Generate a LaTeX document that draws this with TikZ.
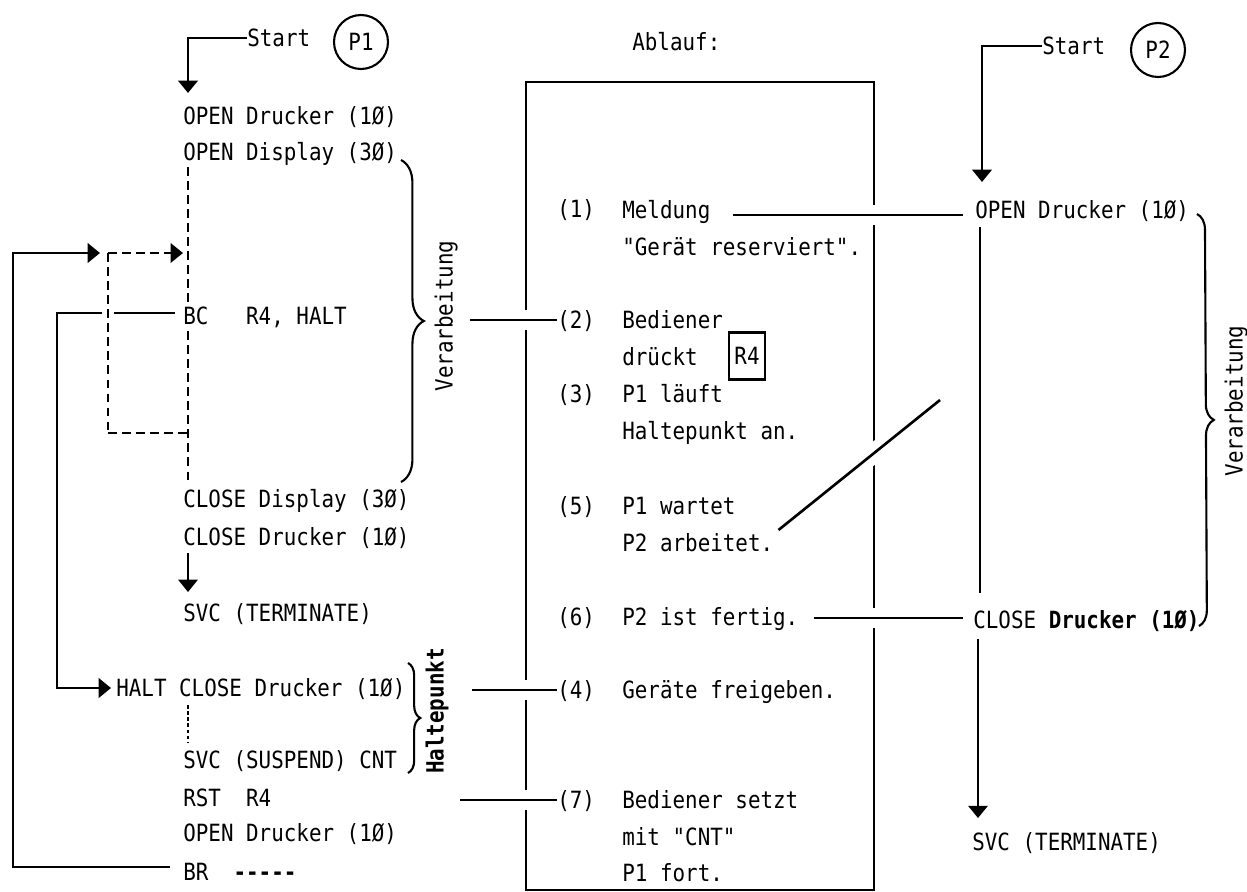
\documentclass[tikz,border=0pt]{standalone}
\usepackage{fontspec}
\newfontfamily\tw{DejaVu Sans Mono}[FakeStretch=0.88]
\usetikzlibrary{arrows.meta,calc,decorations.pathreplacing}
\begin{document}
\begin{tikzpicture}[x=0.02cm,y=-0.02cm,
  txt/.style={anchor=west,inner sep=0pt,font={\tw\fontsize{13.5}{16}\selectfont},text height=9.8pt,text depth=0pt},
  vlab/.style={txt,anchor=center,rotate=90},
  circ/.style={circle,draw,line width=1.2pt,minimum size=1.08cm,inner sep=0pt,font={\tw\fontsize{13.5}{16}\selectfont}},
  ln/.style={line width=1.5pt},
  arr/.style={ln,-{Triangle[width=11pt,length=7pt]}},
  arrthin/.style={line width=1pt,-{Triangle[width=11pt,length=7pt]}},
  dsh/.style={line width=1.3pt,dash pattern=on 5pt off 3pt},
  dtt/.style={line width=1.1pt,dash pattern=on 2pt off 1.5pt},
  gl/.style={ln,preaction={draw=white,line width=11pt}},
  brc/.style={line width=1.2pt,decorate,decoration={brace,amplitude=#1}}
]
\useasboundingbox (0,0) rectangle (1247,892);

% central box
\draw[ln] (526,82) rectangle (874,890);

% ---------------- left column (P1)
\node[txt] (s1) at (247,38) {Start};
\node[circ] (p1) at (361,42) {P1};
\node[txt] (o1) at (183,116) {OPEN Drucker (1Ø)};
\node[txt] (o2) at (183,152) {OPEN Display (3Ø)};
\node[txt] (bc) at (183,316) {BC\ \ \ R4, HALT};
\node[txt] (cl1) at (183,499) {CLOSE Display (3Ø)};
\node[txt] (cl2) at (183,537) {CLOSE Drucker (1Ø)};
\node[txt] (sv1) at (183,613) {SVC (TERMINATE)};
\node[txt] (halt) at (116,688) {HALT CLOSE Drucker (1Ø)};
\node[txt] (sus) at (183,760) {SVC (SUSPEND) CNT};
\node[txt] (rst) at (183,798) {RST\ \ R4};
\node[txt] (o3) at (183,833) {OPEN Drucker (1Ø)};
\node[txt] (br) at (183,872) {BR\ \ {\bfseries -----}};
\node[vlab] (verl) at (444,316) {Verarbeitung};
\node[vlab,font={\tw\bfseries\fontsize{13.5}{16}\selectfont}] (hp) at (435,711) {Haltepunkt};

\coordinate (c1) at (188,93);
\draw[arr] (s1.west) -| (c1);
\draw[dsh] ($(o2.south west)+(5,6)$) -- ($(bc.north west)+(5,-4)$);
\draw[dsh] ($(bc.south west)+(5,6)$) -- ($(cl1.north west)+(5,-9)$);
\draw[arrthin] ($(cl2.south west)+(5,7)$) -- ($(sv1.north west)+(5,-12)$);
\draw[dtt] ($(sus.north west)+(5,-46)$) -- ($(sus.north west)+(5,-9)$);

% solid loops
\coordinate (oB) at (13,867);
\coordinate (oT) at (100,253);
\draw[arr] ($(br.west)+(-13,-5)$) -- (oB) |- (oT);
\coordinate (iB) at (57,688);
\draw[arr] ($(bc.west)+(-8,-3)$) -| (iB) -- ($(halt.west)+(-5,0)$);

% dashed loop
\coordinate (dA) at (108,253);
\coordinate (dB) at (108,433);
\coordinate (dT) at (183,253);
\coordinate (dC) at (188,433);
\draw[dsh,preaction={draw=white,line width=7pt,dash pattern=}] (dA) -- (dB);
\draw[dsh,-{Triangle[width=11pt,length=7pt]}] (dA) -- (dT);
\draw[dsh] (dB) -- (dC);

% braces
\draw[brc=13pt] (401,160) -- (401,482);
\draw[brc=7pt] (408,663) -- (408,773);

% ---------------- centre
\node[txt] (abl) at (632,42) {Ablauf:};
\node[txt] (n1) at (557,209) {(1)};
\node[txt] (m1) at (622,210) {Meldung};
\node[txt] (m1b) at (622,247) {"Gerät reserviert".};
\node[txt] (n2) at (557,320) {(2)};
\node[txt] (m2) at (622,320) {Bediener};
\node[txt] (m2b) at (622,357) {drückt};
\node[draw,line width=1.2pt,inner xsep=3pt,inner ysep=0pt,minimum height=0.94cm,text height=9.8pt,text depth=0pt,font={\tw\fontsize{13.5}{16}\selectfont}] (r4) at (747,356) {R4};
\node[txt] (n3) at (557,394) {(3)};
\node[txt] (m3) at (622,394) {P1 läuft};
\node[txt] (m3b) at (622,431) {Haltepunkt an.};
\node[txt] (n5) at (557,506) {(5)};
\node[txt] (m5) at (622,506) {P1 wartet};
\node[txt] (m5b) at (622,543) {P2 arbeitet.};
\node[txt] (n6) at (557,617) {(6)};
\node[txt] (m6) at (622,617) {P2 ist fertig.};
\node[txt] (n4) at (557,690) {(4)};
\node[txt] (m4) at (622,690) {Geräte freigeben.};
\node[txt] (n7) at (557,800) {(7)};
\node[txt] (m7) at (622,800) {Bediener setzt};
\node[txt] (m7b) at (622,837) {mit "CNT"};
\node[txt] (m7c) at (622,873) {P1 fort.};

% ---------------- right column (P2)
\node[txt] (s2) at (1042,46) {Start};
\node[circ] (p2) at (1158,50) {P2};
\node[txt] (r1) at (975,210) {OPEN Drucker (1Ø)};
\node[txt] (r2) at (973,620) {CLOSE {\bfseries Drucker (1Ø)}};
\node[txt] (r3) at (972,842) {SVC (TERMINATE)};
\node[vlab] (verr) at (1234,401) {Verarbeitung};

\coordinate (cR1) at (982,182);
\draw[arr] (s2.west) -| (cR1);
\draw[ln] ($(r1.south west)+(5,8)$) -- ($(r2.north west)+(7,-18)$);
\draw[arr] ($(r2.south west)+(5,10)$) -- ($(r3.north west)+(6,-15)$);
\draw[brc=9pt] (1197,214) -- (1199,626);

% ---------------- connectors across the box
\coordinate (c2) at (470,320);
\coordinate (c4) at (472,690);
\coordinate (c7) at (460,800);
\coordinate (cd) at (940,400);
\draw[gl] ($(m1.east)+(22,5)$) -- ($(r1.west)+(-12,5)$);
\draw[gl] (c2) -- (n2.west);
\draw[gl] (c4) -- (n4.west);
\draw[gl] (c7) -- (n7.west);
\draw[gl] ($(m6.east)+(15,1)$) -- ($(r2.west)+(-10,-2)$);
\draw[gl] ($(m5b.east)+(5,-13)$) -- (cd);
\end{tikzpicture}
\end{document}
